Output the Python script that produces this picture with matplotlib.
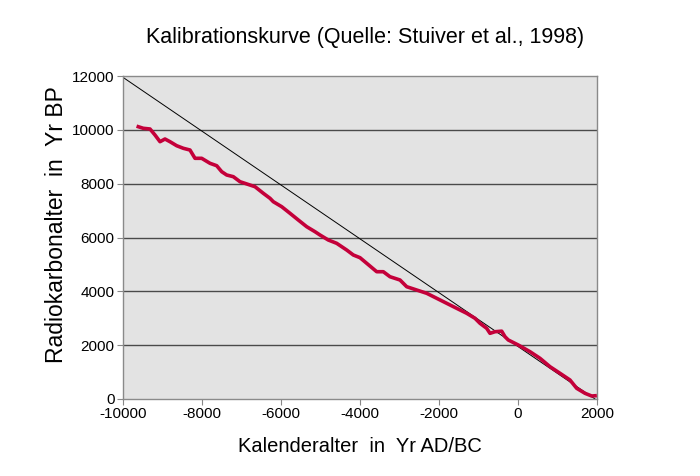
import matplotlib
matplotlib.use("Agg")
import matplotlib.pyplot as plt

plt.rcParams['font.family'] = ['Liberation Sans', 'DejaVu Sans']

# Calibration curve (calendar age AD/BC vs radiocarbon age BP)
cal_age = [-9613, -9486, -9316, -9190, -9063, -8937, -8810, -8641, -8473, -8304,
           -8177, -8008, -7797, -7628, -7501, -7375, -7207, -7038, -6868, -6658,
           -6448, -6278, -6195, -5982, -5772, -5562, -5349, -5139, -5013, -4803,
           -4590, -4337, -4169, -4000, -3830, -3577, -3410, -3241, -2987, -2818,
           -2565, -2311, -2058, -1805, -1552, -1299, -1089, -962, -793, -709,
           -582, -413, -329, -246, 7, 304, 557, 810, 1063, 1316, 1486, 1696,
           1866, 1950]
c14_age = [10116, 10057, 10031, 9808, 9559, 9659, 9559, 9410, 9314, 9250,
           8942, 8942, 8756, 8667, 8445, 8322, 8259, 8073, 7990, 7887,
           7642, 7456, 7330, 7144, 6899, 6650, 6401, 6215, 6093, 5907,
           5784, 5535, 5350, 5250, 5041, 4729, 4729, 4543, 4421, 4172,
           4049, 3927, 3741, 3555, 3369, 3184, 2998, 2812, 2627, 2440,
           2500, 2520, 2314, 2192, 2006, 1757, 1512, 1200, 955, 706,
           397, 212, 111, 120]

# 1:1 reference line (BP = 1950 - AD)
ref_x = [-10000, 1950]
ref_y = [11950, 0]

x_ticks = [-10000, -8000, -6000, -4000, -2000, 0, 2000]
y_ticks = [0, 2000, 4000, 6000, 8000, 10000, 12000]

fig = plt.figure(figsize=(7.0, 4.76), dpi=100)
ax = fig.add_axes([123/700, 1-399/476, (597-123)/700, (399-76)/476])
ax.set_facecolor('#e3e3e3')

for yv in y_ticks[1:-1]:
    ax.axhline(yv, color='#4a4a4a', lw=1.0, zorder=1)

ax.plot(ref_x, ref_y, color='black', lw=0.7, zorder=2)
ax.plot(cal_age, c14_age, color='#c4003a', lw=2.6, zorder=3, solid_joinstyle='round')

ax.set_xlim(-10000, 2000)
ax.set_ylim(0, 12000)
ax.set_xticks(x_ticks)
ax.set_yticks(y_ticks)
ax.set_xticklabels([str(v) for v in x_ticks])
ax.set_yticklabels([str(v) for v in y_ticks])
ax.tick_params(direction='out', length=4, width=0.8, color='#888888',
               labelsize=11, pad=2)
for s in ax.spines.values():
    s.set_color('#8a8a8a')
    s.set_linewidth(1.0)

ax.set_xlabel('Kalenderalter  in  Yr AD/BC', fontsize=14.5, labelpad=11)
ax.set_ylabel('Radiokarbonalter  in  Yr BP', fontsize=16.5)
ax.yaxis.set_label_coords(-0.117, 0.54)
fig.text(0.521, 1-37/476, 'Kalibrationskurve (Quelle: Stuiver et al., 1998)',
         ha='center', va='center', fontsize=15.5)

fig.savefig('out.png', dpi=100)
